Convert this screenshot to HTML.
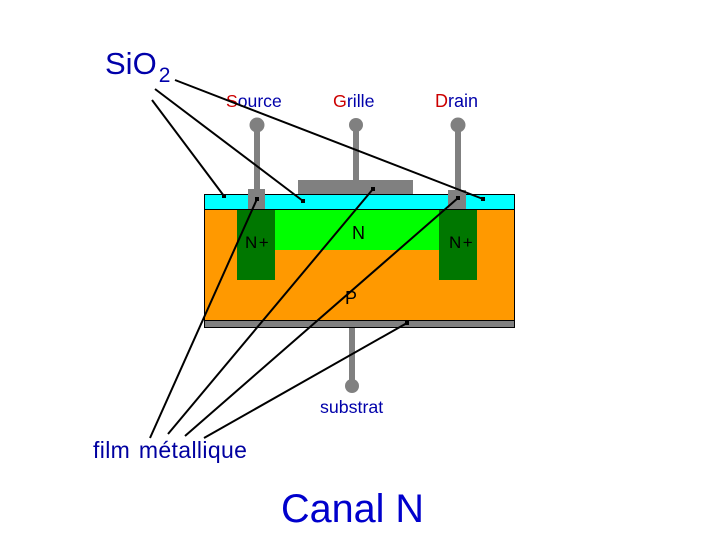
<!DOCTYPE html>
<html>
<head>
<meta charset="utf-8">
<style>
html,body{margin:0;padding:0;background:#fff}
svg{display:block}
text{font-family:"Liberation Sans",sans-serif}
</style>
</head>
<body>
<svg width="720" height="540" viewBox="0 0 720 540" xmlns="http://www.w3.org/2000/svg">
<rect width="720" height="540" fill="#fff"/>
<!-- layers -->
<rect x="204.5" y="194.5" width="310" height="15" fill="#00ffff" stroke="#000" stroke-width="1"/>
<rect x="204.5" y="209.5" width="310" height="111" fill="#ff9900" stroke="#000" stroke-width="1"/>
<rect x="275" y="210" width="164" height="40" fill="#00ff00"/>
<rect x="237" y="210" width="38" height="70" fill="#007700"/>
<rect x="439" y="210" width="38" height="70" fill="#007700"/>
<rect x="204.5" y="320.5" width="310" height="7" fill="#808080" stroke="#000" stroke-width="1"/>
<!-- gate and contacts -->
<rect x="298" y="180" width="115" height="14" fill="#808080"/>
<rect x="248" y="189" width="17" height="20" fill="#808080"/>
<rect x="448" y="190" width="18" height="19" fill="#808080"/>
<!-- terminals -->
<g fill="#808080">
<rect x="254" y="125" width="6" height="65"/><circle cx="257" cy="125" r="7.5"/>
<rect x="353" y="125" width="6" height="56"/><circle cx="356" cy="125" r="7"/>
<rect x="455" y="125" width="6" height="66"/><circle cx="458" cy="125" r="7.5"/>
<rect x="349" y="328" width="6" height="58"/><circle cx="352" cy="386" r="7"/>
</g>
<!-- labels -->
<text x="105" y="74" font-size="31" fill="#0000aa">SiO<tspan font-size="21" dx="2" dy="8">2</tspan></text>
<text x="226" y="107" font-size="17.6" fill="#0000aa"><tspan fill="#cc0000">S</tspan>ource</text>
<text x="333" y="107" font-size="17.8" fill="#0000aa"><tspan fill="#cc0000">G</tspan>rille</text>
<text x="435" y="107" font-size="18" fill="#0000aa"><tspan fill="#cc0000">D</tspan>rain</text>
<text x="245" y="248" font-size="17" letter-spacing="1.5" fill="#000">N+</text>
<text x="449" y="248" font-size="17" letter-spacing="1.5" fill="#000">N+</text>
<text x="352" y="239" font-size="18" fill="#000">N</text>
<text x="345" y="304" font-size="18" fill="#000">P</text>
<text x="320" y="413" font-size="17.8" fill="#0000aa">substrat</text>
<text x="93" y="458" font-size="23" letter-spacing="0.35" word-spacing="2" fill="#0000a0">film métallique</text>
<text x="281" y="522" font-size="39.6" fill="#0000cc">Canal N</text>
<!-- leader lines -->
<g stroke="#000" stroke-width="2" fill="none">
<line x1="175" y1="80" x2="483" y2="199"/>
<line x1="155" y1="89" x2="303" y2="201"/>
<line x1="152" y1="100" x2="224" y2="196"/>
<line x1="150" y1="438" x2="257" y2="199"/>
<line x1="168" y1="434" x2="373" y2="189"/>
<line x1="185" y1="436" x2="458" y2="198"/>
<line x1="204" y1="438" x2="407" y2="323"/>
</g>
<g fill="#000">
<rect x="481" y="197" width="4" height="4"/>
<rect x="301" y="199" width="4" height="4"/>
<rect x="222" y="194" width="4" height="4"/>
<rect x="255" y="197" width="4" height="4"/>
<rect x="371" y="187" width="4" height="4"/>
<rect x="456" y="196" width="4" height="4"/>
<rect x="405" y="321" width="4" height="4"/>
</g>
</svg>
</body>
</html>
